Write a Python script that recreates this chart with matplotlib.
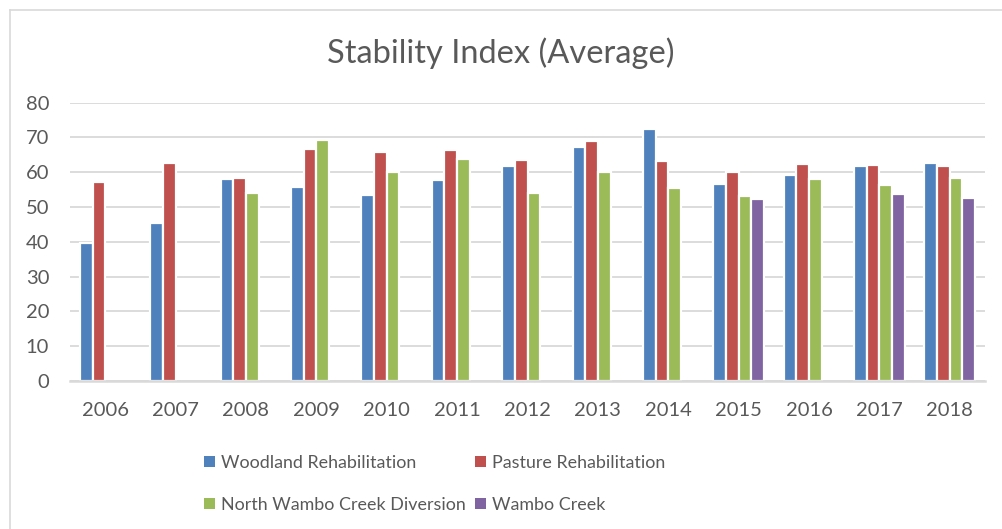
import numpy as np
import matplotlib
matplotlib.use("Agg")
import matplotlib.pyplot as plt
from matplotlib.lines import Line2D
from matplotlib.patches import Rectangle

nan = np.nan
years = ["2006", "2007", "2008", "2009", "2010", "2011", "2012",
         "2013", "2014", "2015", "2016", "2017", "2018"]
woodland = [39.8, 45.5, 58.0, 55.7, 53.4, 57.7, 61.7, 67.4, 72.3, 56.5, 59.2, 61.7, 62.6]
pasture = [57.1, 62.6, 58.4, 66.6, 65.7, 66.3, 63.5, 69.0, 63.2, 60.0, 62.5, 62.2, 61.9]
north_wambo = [nan, nan, 53.9, 69.3, 60.2, 63.7, 54.0, 60.1, 55.6, 53.2, 58.0, 56.2, 58.4]
wambo = [nan, nan, nan, nan, nan, nan, nan, nan, nan, 52.2, nan, 53.7, 52.5]

series_names = ["Woodland Rehabilitation", "Pasture Rehabilitation",
                "North Wambo Creek Diversion", "Wambo Creek"]
colors = ["#4F81BD", "#C0504D", "#9BBB59", "#8064A2"]
y_ticks = [0, 10, 20, 30, 40, 50, 60, 70, 80]

plt.rcParams['font.family'] = ['Lato', 'DejaVu Sans']
text_color = "#595959"
grid_color = "#D9D9D9"

W, H = 1002, 529
fig = plt.figure(figsize=(W / 100, H / 100), dpi=100)
ax = fig.add_axes([70 / W, 1 - 381 / H, 915 / W, (381 - 102.7) / H])

x = np.arange(len(years))
bw = 0.18
all_series = [woodland, pasture, north_wambo, wambo]
for i, (vals, name, c) in enumerate(zip(all_series, series_names, colors)):
    ax.bar(x + (i - 1.5) * bw, np.array(vals, dtype=float), width=bw, color=c,
           edgecolor="white", linewidth=1.6, label=name, zorder=3)

ax.set_xlim(-0.5, len(years) - 0.5)
ax.set_ylim(0, 80)
ax.set_yticks(y_ticks)
ax.set_xticks(x)
ax.set_xticklabels(years)
ax.tick_params(axis="both", length=0, labelsize=14.5, colors=text_color)
ax.tick_params(axis="y", pad=15)
ax.tick_params(axis="x", pad=15)
ax.yaxis.grid(True, color=grid_color, linewidth=1.3, zorder=0)
for s in ["top", "right", "left"]:
    ax.spines[s].set_visible(False)
ax.spines["bottom"].set_color(grid_color)
ax.spines["bottom"].set_linewidth(1.8)
ax.spines["bottom"].set_zorder(4)

fig.text(0.5, 1 - 53 / H, "Stability Index (Average)", ha="center", va="center",
         fontsize=23.5, color=text_color)

# legend (row-major, like the reference)
leg_pos = [(204, 461), (475, 461), (204, 503), (475, 503)]
sq = 11
for (px, py), name, c in zip(leg_pos, series_names, colors):
    fig.add_artist(Rectangle((px / W, 1 - (py + sq / 2) / H), sq / W, sq / H,
                             transform=fig.transFigure, facecolor=c, edgecolor="none"))
    fig.text((px + sq + 6) / W, 1 - py / H, name, ha="left", va="center_baseline",
             fontsize=12.9, color=text_color)

# chart border
fig.add_artist(Line2D([9.5 / W, 1.0], [1 - 9.5 / H, 1 - 9.5 / H], transform=fig.transFigure,
                      color=grid_color, linewidth=1.2))
fig.add_artist(Line2D([9.5 / W, 9.5 / W], [0, 1 - 9.5 / H], transform=fig.transFigure,
                      color=grid_color, linewidth=1.2))

fig.savefig("out.png", dpi=100, facecolor="white")
